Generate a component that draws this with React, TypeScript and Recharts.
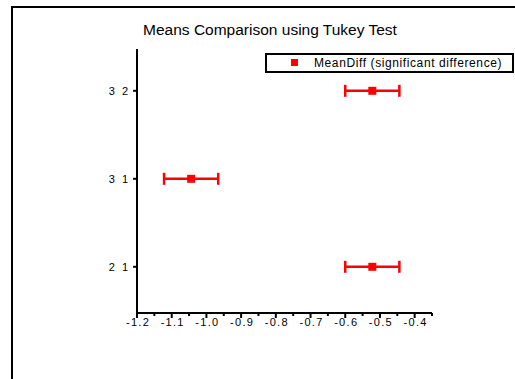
import React from 'react';
import {ErrorBar, Scatter, ScatterChart, XAxis, YAxis} from 'recharts';

const comparisons = ['2 1', '3 1', '3 2'];
const meanDiff = [-0.522, -1.044, -0.522];
const ciHalfWidth = [0.078, 0.078, 0.078];

const xMajorTicks = [-1.2, -1.1, -1.0, -0.9, -0.8, -0.7, -0.6, -0.5, -0.4];
const xMinorTicks = [-1.15, -1.05, -0.95, -0.85, -0.75, -0.65, -0.55, -0.45, -0.35];
const yTicks = [1, 2, 3];

const font = '"Liberation Sans", Arial, sans-serif';
const red = '#ff0000';

const data = comparisons.map((name, i) => ({
  name,
  pos: yTicks[i],
  diff: meanDiff[i],
  ci: ciHalfWidth[i],
}));

const allXTicks = [...xMajorTicks, ...xMinorTicks].sort((a, b) => a - b);

function isMajor(v: number) {
  return xMajorTicks.some((t) => Math.abs(t - v) < 1e-6);
}

function XTick(props: any) {
  const {x, y, payload} = props;
  const major = isMajor(payload.value);
  return (
    <g>
      <line x1={x} x2={x} y1={y} y2={y + (major ? 5 : 3)} stroke="#000" strokeWidth={2} />
      {major && (
        <text
          x={x + 1}
          y={y + 13}
          textAnchor="middle"
          fontSize={11}
          letterSpacing={1.3}
          fontFamily={font}
          fill="#000"
        >
          {payload.value.toFixed(1)}
        </text>
      )}
    </g>
  );
}

// letter spacing trails the last glyph, so shift right to keep the label end near the tick
function YTick(props: any) {
  const {x, y, payload} = props;
  return (
    <text
      x={x + 2}
      y={y + 4}
      textAnchor="end"
      fontSize={11}
      letterSpacing={2}
      fontFamily={font}
      fill="#000"
    >
      {comparisons[yTicks.indexOf(payload.value)] ?? ''}
    </text>
  );
}

export default function App() {
  return (
    <div
      style={{
        position: 'absolute',
        left: 0,
        top: 0,
        width: 515,
        height: 379,
        background: '#fff',
        overflow: 'hidden',
        fontFamily: font,
      }}
    >
      <div
        style={{
          position: 'absolute',
          left: 11,
          top: 6,
          width: 600,
          height: 500,
          border: '2px solid #000',
        }}
      />
      <div
        style={{
          position: 'absolute',
          left: 70,
          width: 400,
          top: 21,
          textAlign: 'center',
          fontSize: 15.5,
          color: '#000',
        }}
      >
        Means Comparison using Tukey Test
      </div>
      <div
        style={{
          position: 'absolute',
          boxSizing: 'border-box',
          left: 265,
          top: 53,
          width: 249,
          height: 20,
          border: '2px solid #000',
          background: '#fff',
          zIndex: 2,
        }}
      >
        <span
          style={{
            position: 'absolute',
            left: 24,
            top: 4,
            width: 7,
            height: 7,
            background: red,
          }}
        />
        <span
          style={{
            position: 'absolute',
            left: 47,
            top: 1,
            fontSize: 12,
            lineHeight: '14px',
            letterSpacing: 0.6,
            color: '#000',
            whiteSpace: 'nowrap',
          }}
        >
          MeanDiff (significant difference)
        </span>
      </div>
      <div style={{position: 'absolute', left: 0, top: 0}}>
        <ScatterChart width={515} height={379} margin={{top: 49, right: 83, bottom: 36, left: 77}}>
          <XAxis
            type="number"
            dataKey="diff"
            domain={[-1.2, -0.35]}
            ticks={allXTicks}
            allowDataOverflow
            height={30}
            axisLine={{stroke: '#000', strokeWidth: 2}}
            tickLine={false}
            tickSize={0}
            tickMargin={0}
            tick={<XTick />}
            interval={0}
          />
          <YAxis
            type="number"
            dataKey="pos"
            domain={[0.475, 3.475]}
            ticks={yTicks}
            allowDataOverflow
            width={60}
            axisLine={{stroke: '#000', strokeWidth: 2}}
            tickLine={{stroke: '#000', strokeWidth: 2}}
            tickSize={4}
            tickMargin={5}
            interval={0}
            tick={<YTick />}
          />
          <Scatter data={data} fill={red} shape="square" isAnimationActive={false}>
            <ErrorBar dataKey="ci" direction="x" width={6} stroke={red} strokeWidth={2.5} />
          </Scatter>
        </ScatterChart>
      </div>
    </div>
  );
}
